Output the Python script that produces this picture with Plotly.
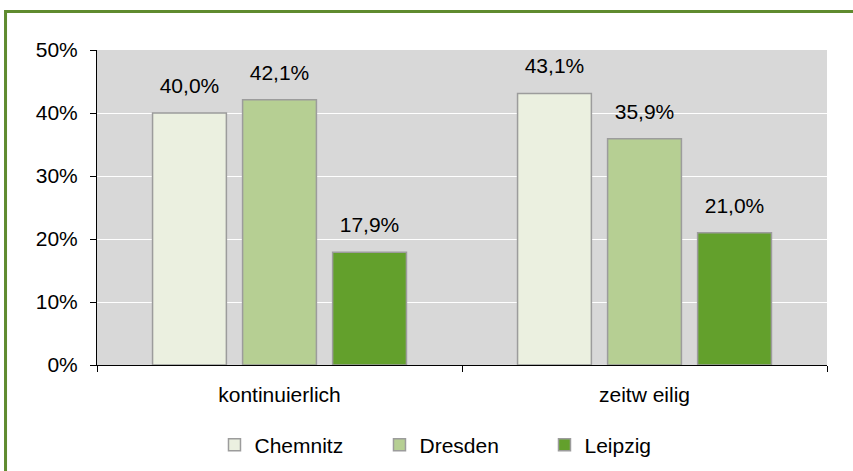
import plotly.graph_objects as go

# Data
categories = ["kontinuierlich", "zeitw eilig"]
cities = ["Chemnitz", "Dresden", "Leipzig"]
chemnitz = [0.400, 0.431]
dresden = [0.421, 0.359]
leipzig = [0.179, 0.210]
values = [chemnitz, dresden, leipzig]
colors = ["#EBF0E0", "#B6CF93", "#63A02C"]

font = "Liberation Sans, Arial, sans-serif"

fig = go.Figure()

for name, vals, col in zip(cities, values, colors):
    fig.add_trace(go.Bar(
        x=categories, y=vals, name=name,
        marker=dict(color=col, line=dict(color="#9C9C9C", width=1.5)),
        hoverinfo="skip",
    ))

# value labels, grouped like the bars
for name, vals in zip(cities, values):
    fig.add_trace(go.Scatter(
        x=categories, y=vals, mode="markers+text",
        marker=dict(size=22, color="rgba(0,0,0,0)"),
        texttemplate="%{y:.1%}", textposition="top center",
        textfont=dict(size=21, color="black", family=font),
        cliponaxis=False, showlegend=False, hoverinfo="skip",
    ))

fig.update_layout(
    width=853, height=471,
    margin=dict(l=97, r=26, t=50, b=106),
    paper_bgcolor="white", plot_bgcolor="#D8D8D8",
    barmode="group", bargap=0.26, bargroupgap=0.18,
    scattermode="group", scattergap=0.26,
    separators=",.",
    font=dict(family=font, size=21, color="black"),
    legend=dict(orientation="h", xref="container", yref="container",
                x=0.5416, xanchor="center", y=0.0552, yanchor="middle",
                entrywidth=120, font=dict(size=21), traceorder="normal"),
    shapes=[dict(type="rect", xref="paper", yref="paper",
                 x0=-0.1253, x1=1.1, y0=-0.5, y1=1.1222,
                 line=dict(color="#5F8B2F", width=3), fillcolor="rgba(0,0,0,0)")],
)

fig.update_yaxes(range=[0, 0.5], dtick=0.1, tickformat=".0%",
                 showline=True, linecolor="black", linewidth=1,
                 ticks="outside", ticklen=6, tickcolor="black",
                 gridcolor="white", gridwidth=1, zeroline=False,
                 ticklabelstandoff=8)
fig.update_xaxes(showline=True, linecolor="black", linewidth=1,
                 ticks="outside", ticklen=6, tickcolor="black",
                 tickson="boundaries", ticklabelstandoff=11)

fig.write_html("out.html", config={"displayModeBar": False},
               post_script="document.body.style.margin='0';")
